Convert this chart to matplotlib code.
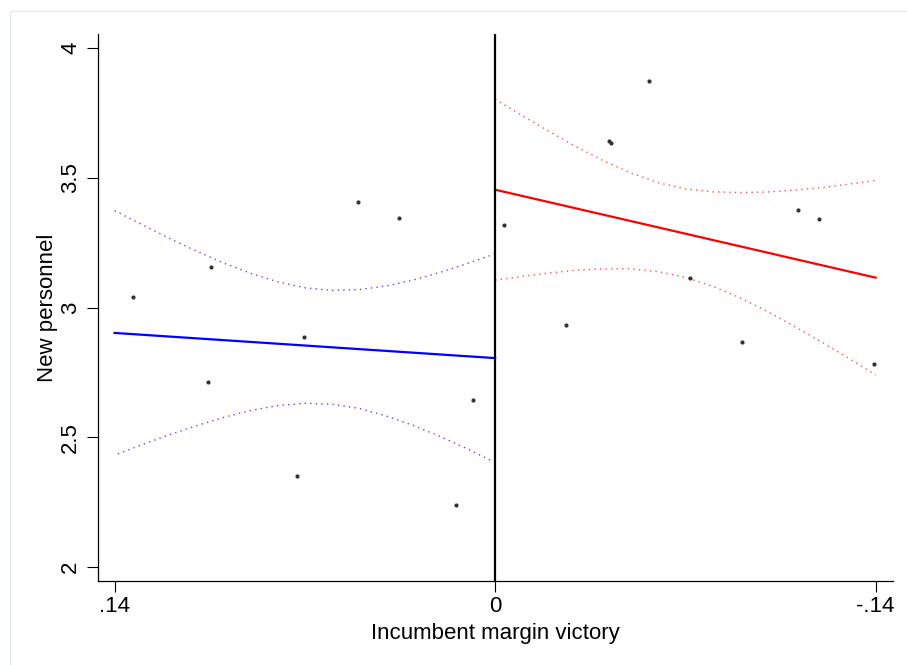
import numpy as np
import matplotlib
matplotlib.use("Agg")
import matplotlib.pyplot as plt
from matplotlib.patches import Rectangle

plt.rcParams['font.family'] = ['Liberation Sans', 'DejaVu Sans']

# binned scatter, incumbent margin (positive = left of cutoff on this chart)
left_x = [0.1331, 0.1045, 0.1057, 0.0704, 0.0730, 0.0505, 0.0354, 0.0082, 0.0143]
left_y = [3.042, 3.155, 2.714, 2.887, 2.351, 3.405, 3.344, 2.644, 2.239]
right_x = [-0.0031, -0.0261, -0.0420, -0.0426, -0.0565, -0.0717, -0.0908, -0.1114, -0.1193, -0.1393]
right_y = [3.318, 2.933, 3.640, 3.635, 3.873, 3.114, 2.866, 3.376, 3.342, 2.783]

# linear fits (end points)
left_fit_x = [0.14, 0.0]
left_fit_y = [2.902, 2.805]
right_fit_x = [0.0, -0.14]
right_fit_y = [3.454, 3.115]

# confidence bands read at steps of .01
left_ci_x = [0.00, 0.01, 0.02, 0.03, 0.04, 0.05, 0.06, 0.07, 0.08, 0.09, 0.10, 0.11, 0.12, 0.13, 0.14]
left_ci_hi = [3.207, 3.170, 3.136, 3.106, 3.083, 3.069, 3.066, 3.076, 3.099, 3.132, 3.172, 3.218, 3.267, 3.320, 3.373]
left_ci_lo = [2.403, 2.454, 2.502, 2.545, 2.582, 2.611, 2.627, 2.631, 2.622, 2.603, 2.576, 2.544, 2.509, 2.471, 2.431]
right_ci_x = [0.00, -0.01, -0.02, -0.03, -0.04, -0.05, -0.06, -0.07, -0.08, -0.09, -0.10, -0.11, -0.12, -0.13, -0.14]
right_ci_hi = [3.803, 3.739, 3.678, 3.619, 3.565, 3.518, 3.481, 3.457, 3.446, 3.443, 3.445, 3.452, 3.462, 3.475, 3.490]
right_ci_lo = [3.105, 3.120, 3.133, 3.144, 3.149, 3.149, 3.138, 3.116, 3.082, 3.038, 2.986, 2.928, 2.868, 2.805, 2.740]

xticks = [0.14, 0.0, -0.14]
xticklabels = ['.14', '0', '-.14']
yticks = [2, 2.5, 3, 3.5, 4]
yticklabels = ['2', '2.5', '3', '3.5', '4']

fig = plt.figure(figsize=(9.07, 6.65), dpi=100)
fig.patches.append(Rectangle((10 / 907, -0.05), 1.1, (665 - 11) / 665 + 0.05,
                             transform=fig.transFigure, fill=False,
                             edgecolor='#e6eded', lw=1.0))
ax = fig.add_axes([98 / 907, (665 - 581) / 665, (893 - 98) / 907, (581 - 34) / 665])

dots = (0, (1, 3))
ax.plot(left_ci_x, left_ci_hi, color='#3030ff', lw=1.0, ls=dots, alpha=0.85)
ax.plot(left_ci_x, left_ci_lo, color='#3030ff', lw=1.0, ls=dots, alpha=0.85)
ax.plot(right_ci_x, right_ci_hi, color='#ff3030', lw=1.0, ls=dots, alpha=0.85)
ax.plot(right_ci_x, right_ci_lo, color='#ff3030', lw=1.0, ls=dots, alpha=0.85)

ax.plot(left_fit_x, left_fit_y, color='#0000ff', lw=1.6)
ax.plot(right_fit_x, right_fit_y, color='#ff0000', lw=1.6)

ax.plot(left_x, left_y, 'o', color='#333333', ms=3.0, mew=0)
ax.plot(right_x, right_y, 'o', color='#333333', ms=3.0, mew=0)

ax.axvline(0, color='black', lw=1.6)

ax.set_xlim(0.1461, -0.1464)
ax.set_ylim(1.946, 4.054)

ax.set_xticks(xticks)
ax.set_xticklabels(xticklabels)
ax.set_yticks(yticks)
ax.set_yticklabels(yticklabels, rotation=90, va='center')
ax.tick_params(axis='both', length=8, width=0.8, labelsize=16, color='black')
ax.tick_params(axis='y', pad=4)
ax.tick_params(axis='x', pad=3)

for s in ['top', 'right']:
    ax.spines[s].set_visible(False)
for s in ['left', 'bottom']:
    ax.spines[s].set_linewidth(0.9)

ax.set_xlabel('Incumbent margin victory', fontsize=16, labelpad=4)
ax.set_ylabel('New personnel', fontsize=16, labelpad=1.5)

fig.savefig('out.png', dpi=100)
